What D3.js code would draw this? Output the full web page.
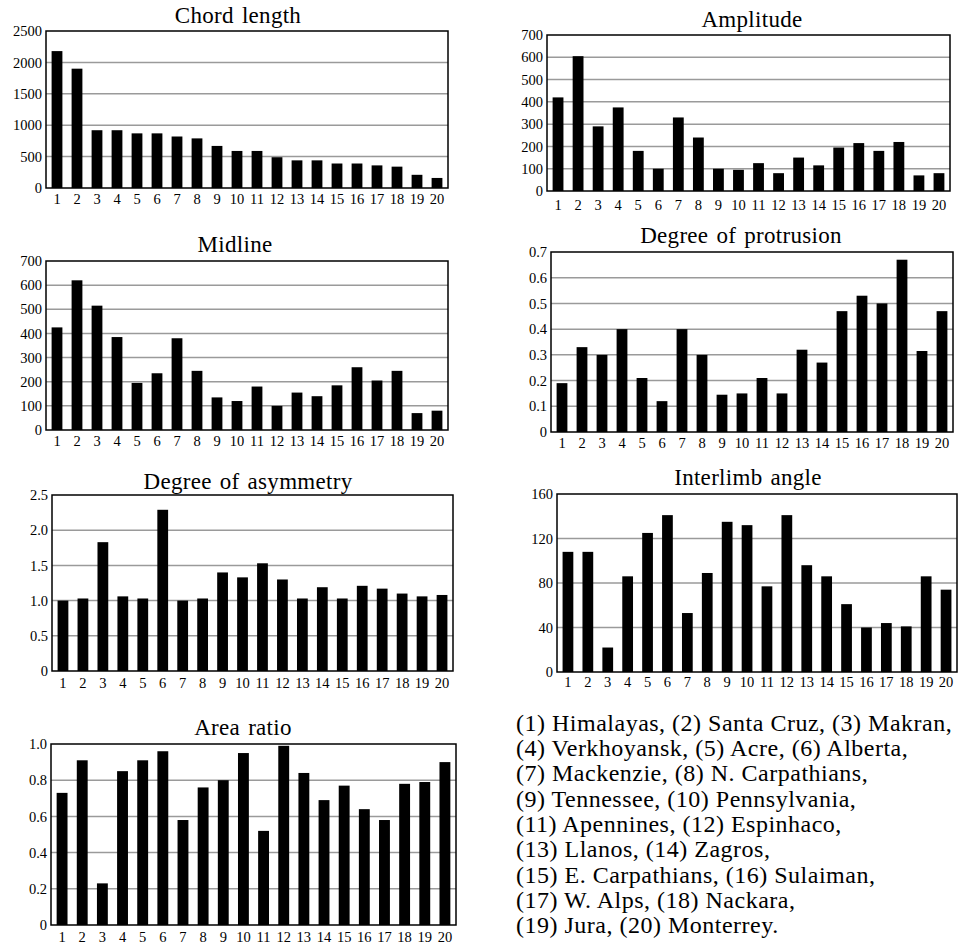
<!DOCTYPE html>
<html lang="en">
<head>
<meta charset="utf-8">
<title>Fold parameters</title>
<style>
    body { margin: 0; background: #fff; }
    svg text { font-family: "Liberation Serif", "DejaVu Serif", "Times New Roman", Times, serif; }
    .title { font-size: 23px; letter-spacing: 0.3px; word-spacing: 2px; text-anchor: middle; fill: #000; }
    .tick text { font-family: "Liberation Serif", "DejaVu Serif", "Times New Roman", Times, serif; font-size: 14.5px; fill: #000; }
    .grid line { stroke: #9a9a9a; stroke-width: 1.5px; }
    .frame { fill: none; stroke: #000; stroke-width: 1.5px; }
    .legend { font-size: 24px; letter-spacing: 0.5px; fill: #000; }
</style>
</head>
<body>
<script src="https://d3js.org/d3.v7.min.js"></script>
<script>

  // belts 1..20
  const categories = ["1", "2", "3", "4", "5", "6", "7", "8", "9", "10",
                      "11", "12", "13", "14", "15", "16", "17", "18", "19", "20"];

  const chordLength = [2180, 1900, 920, 920, 870, 870, 820, 790, 670, 590,
                       590, 490, 440, 440, 390, 390, 360, 340, 210, 160];
  const amplitude = [420, 605, 290, 375, 180, 100, 330, 240, 100, 95,
                     125, 80, 150, 115, 195, 215, 180, 220, 70, 80];
  const midline = [425, 620, 515, 385, 195, 235, 380, 245, 135, 120,
                   180, 100, 155, 140, 185, 260, 205, 245, 70, 80];
  const protrusion = [0.19, 0.33, 0.30, 0.40, 0.21, 0.12, 0.40, 0.30, 0.145, 0.15,
                      0.21, 0.15, 0.32, 0.27, 0.47, 0.53, 0.50, 0.67, 0.315, 0.47];
  const asymmetry = [1.0, 1.03, 1.83, 1.06, 1.03, 2.29, 1.0, 1.03, 1.4, 1.33,
                     1.53, 1.3, 1.03, 1.19, 1.03, 1.21, 1.17, 1.1, 1.06, 1.08];
  const interlimb = [108, 108, 22, 86, 125, 141, 53, 89, 135, 132,
                     77, 141, 96, 86, 61, 40, 44, 41, 86, 74];
  const areaRatio = [0.73, 0.91, 0.23, 0.85, 0.91, 0.96, 0.58, 0.76, 0.80, 0.95,
                     0.52, 0.99, 0.84, 0.69, 0.77, 0.64, 0.58, 0.78, 0.79, 0.90];

  const chordTicks = [0, 500, 1000, 1500, 2000, 2500];
  const chordTickLabels = ["0", "500", "1000", "1500", "2000", "2500"];
  const hundredTicks = [0, 100, 200, 300, 400, 500, 600, 700];
  const hundredTickLabels = ["0", "100", "200", "300", "400", "500", "600", "700"];
  const protrusionTicks = [0, 0.1, 0.2, 0.3, 0.4, 0.5, 0.6, 0.7];
  const protrusionTickLabels = ["0", "0.1", "0.2", "0.3", "0.4", "0.5", "0.6", "0.7"];
  const asymmetryTicks = [0, 0.5, 1, 1.5, 2, 2.5];
  const asymmetryTickLabels = ["0", "0.5", "1.0", "1.5", "2.0", "2.5"];
  const angleTicks = [0, 40, 80, 120, 160];
  const angleTickLabels = ["0", "40", "80", "120", "160"];
  const areaTicks = [0, 0.2, 0.4, 0.6, 0.8, 1.0];
  const areaTickLabels = ["0", "0.2", "0.4", "0.6", "0.8", "1.0"];

  const legendLines = [
      "(1) Himalayas, (2) Santa Cruz, (3) Makran,",
      "(4) Verkhoyansk, (5) Acre, (6) Alberta,",
      "(7) Mackenzie, (8) N. Carpathians,",
      "(9) Tennessee, (10) Pennsylvania,",
      "(11) Apennines, (12) Espinhaco,",
      "(13) Llanos, (14) Zagros,",
      "(15) E. Carpathians, (16) Sulaiman,",
      "(17) W. Alps, (18) Nackara,",
      "(19) Jura, (20) Monterrey."
  ];

  // box = [left, top, right, bottom] of each plot frame
  const panels = [
      {title: "Chord length", values: chordLength, ticks: chordTicks, labels: chordTickLabels,
       box: [46, 31, 448, 188], titleX: 238, titleY: 23, labelGap: 6},
      {title: "Amplitude", values: amplitude, ticks: hundredTicks, labels: hundredTickLabels,
       box: [547, 35, 950, 191], titleX: 752, titleY: 27, labelGap: 9},
      {title: "Midline", values: midline, ticks: hundredTicks, labels: hundredTickLabels,
       box: [46, 261, 448, 430], titleX: 235, titleY: 252, labelGap: 6},
      {title: "Degree of protrusion", values: protrusion, ticks: protrusionTicks, labels: protrusionTickLabels,
       box: [551, 252, 953, 432], titleX: 741, titleY: 243, labelGap: 6},
      {title: "Degree of asymmetry", values: asymmetry, ticks: asymmetryTicks, labels: asymmetryTickLabels,
       box: [52, 495, 453, 671], titleX: 248, titleY: 489, labelGap: 7},
      {title: "Interlimb angle", values: interlimb, ticks: angleTicks, labels: angleTickLabels,
       box: [557, 494, 957, 672], titleX: 748, titleY: 485, labelGap: 5},
      {title: "Area ratio", values: areaRatio, ticks: areaTicks, labels: areaTickLabels,
       box: [51, 744, 456, 925], titleX: 243, titleY: 735, labelGap: 7}
  ];

  const svg = d3.select("body").append("svg")
          .attr("width", 960)
          .attr("height", 946);

  panels.forEach(function (p) {
      const left = p.box[0], top = p.box[1], right = p.box[2], bottom = p.box[3];

      const x = d3.scaleBand()
              .domain(categories)
              .range([left, right])
              .paddingInner(0.46)
              .paddingOuter(0.28);
      const y = d3.scaleLinear()
              .domain([0, p.ticks[p.ticks.length - 1]])
              .range([bottom, top]);

      svg.append("text")
          .attr("class", "title")
          .attr("x", p.titleX)
          .attr("y", p.titleY)
          .text(p.title);

      svg.append("g")
          .attr("class", "grid")
          .selectAll("line")
          .data(p.ticks.slice(1, -1))
          .enter().append("line")
          .attr("x1", left)
          .attr("x2", right)
          .attr("y1", function (d) { return y(d); })
          .attr("y2", function (d) { return y(d); });

      svg.append("g")
          .selectAll("rect")
          .data(p.values)
          .enter().append("rect")
          .style("fill", "#000")
          .attr("x", function (d, i) { return x(categories[i]); })
          .attr("width", x.bandwidth())
          .attr("y", function (d) { return y(d); })
          .attr("height", function (d) { return bottom - y(d); });

      svg.append("rect")
          .attr("class", "frame")
          .attr("x", left)
          .attr("y", top)
          .attr("width", right - left)
          .attr("height", bottom - top);

      const yAxis = d3.axisLeft(y)
              .tickValues(p.ticks)
              .tickFormat(function (d, i) { return p.labels[i]; })
              .tickSize(0)
              .tickPadding(4);
      svg.append("g")
          .attr("transform", "translate(" + left + ",0)")
          .call(yAxis)
          .call(function (g) { g.select(".domain").remove(); });

      const xAxis = d3.axisBottom(x)
              .tickSize(0)
              .tickPadding(p.labelGap);
      svg.append("g")
          .attr("transform", "translate(0," + bottom + ")")
          .call(xAxis)
          .call(function (g) { g.select(".domain").remove(); });
  });

  svg.append("g")
      .selectAll("text")
      .data(legendLines)
      .enter().append("text")
      .attr("class", "legend")
      .attr("x", 516)
      .attr("y", function (d, i) { return 730.7 + i * 25.3; })
      .text(function (d) { return d; });

</script>
</body>
</html>
